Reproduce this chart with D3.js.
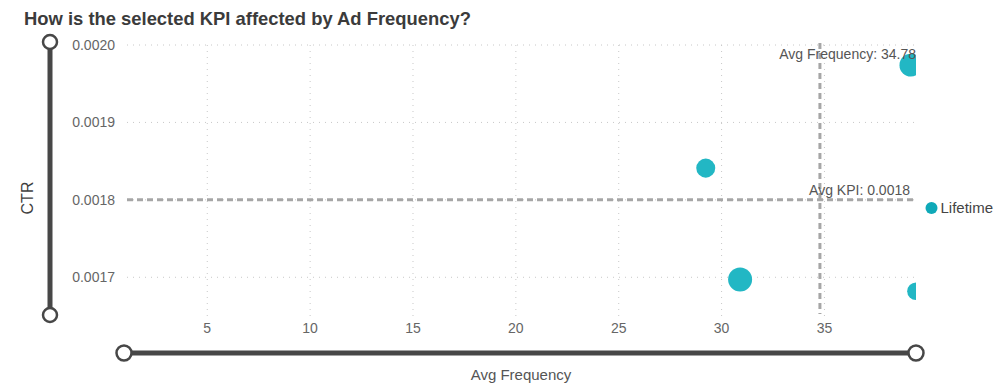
<!DOCTYPE html>
<html>
<head>
<meta charset="utf-8">
<script src="https://cdn.jsdelivr.net/npm/d3@7"></script>
<style>
  html, body { margin: 0; padding: 0; background: #fff; }
  svg { display: block; font-family: "Liberation Sans", Arial, sans-serif; }
</style>
</head>
<body>
<svg id="chart" width="1008" height="390"></svg>
<script>
// ---- data ----
const categories = ["Campaign A", "Campaign B", "Campaign C", "Campaign D"];
const avgFrequency = [39.2, 29.23, 30.9, 39.45];
const ctrValues = [0.001974, 0.001841, 0.001697, 0.001682];
const impressions = [900000, 630000, 1000000, 540000];
const xTickValues = [5, 10, 15, 20, 25, 30, 35];
const yTickValues = [0.0017, 0.0018, 0.0019, 0.0020];
const avgFrequencyRef = 34.78;
const avgKpiRef = 0.0018;
const legendLabels = ["Lifetime"];
const xDomain = [1.05, 39.45];
const yDomain = [0.00165, 0.0020];

(function () {
const svg = d3.select("#chart");
const pL = 126, pR = 916, pT = 45, pB = 316;

const x = d3.scaleLinear().domain(xDomain).range([pL, pR]);
const y = d3.scaleLinear().domain(yDomain).range([pB, pT]);
const r = d3.scaleSqrt().domain([0, d3.max(impressions)]).range([0, 12]);

const teal = "#22b7c4";

// title
svg.append("text").attr("x", 24).attr("y", 25)
  .attr("font-size", 18.4).attr("font-weight", "bold").attr("fill", "#3b3b3b")
  .text("How is the selected KPI affected by Ad Frequency?");

// clip
svg.append("defs").append("clipPath").attr("id", "plotclip")
  .append("rect").attr("x", pL).attr("y", 20).attr("width", pR - pL).attr("height", pB - 20 + 5);

// grid horizontal
svg.append("g").selectAll("line").data(yTickValues).join("line")
  .attr("x1", pL + 1).attr("x2", pR)
  .attr("y1", d => y(d)).attr("y2", d => y(d))
  .attr("stroke", "#c8c8c8").attr("stroke-width", 1).attr("stroke-dasharray", "1,5");
// grid vertical
svg.append("g").selectAll("line").data(xTickValues).join("line")
  .attr("x1", d => x(d)).attr("x2", d => x(d))
  .attr("y1", pT).attr("y2", pB + 2)
  .attr("stroke", "#c8c8c8").attr("stroke-width", 1).attr("stroke-dasharray", "1,5");

// y tick labels
svg.append("g").selectAll("text").data(yTickValues).join("text")
  .attr("x", 115).attr("y", d => y(d)).attr("dy", "0.35em")
  .attr("text-anchor", "end").attr("font-size", 14).attr("fill", "#666")
  .text(d => d3.format(".4f")(d));

// x tick labels
svg.append("g").selectAll("text").data(xTickValues).join("text")
  .attr("x", d => x(d)).attr("y", 328).attr("dy", "0.35em")
  .attr("text-anchor", "middle").attr("font-size", 14).attr("fill", "#666")
  .text(d => d);

// reference lines
svg.append("line").attr("x1", pL + 1).attr("x2", pR)
  .attr("y1", y(avgKpiRef)).attr("y2", y(avgKpiRef))
  .attr("stroke", "#a6a6a6").attr("stroke-width", 3).attr("stroke-dasharray", "6,4");
svg.append("line").attr("x1", x(avgFrequencyRef)).attr("x2", x(avgFrequencyRef))
  .attr("y1", pT - 2).attr("y2", pB - 2)
  .attr("stroke", "#a6a6a6").attr("stroke-width", 3).attr("stroke-dasharray", "6,4");

// points
svg.append("g").attr("clip-path", "url(#plotclip)")
  .selectAll("circle").data(categories).join("circle")
  .attr("cx", (d, i) => x(avgFrequency[i]))
  .attr("cy", (d, i) => y(ctrValues[i]))
  .attr("r", (d, i) => r(impressions[i]))
  .attr("fill", teal);

// reference labels
svg.append("text").attr("x", pR).attr("y", y(0.0020) + 14)
  .attr("text-anchor", "end").attr("font-size", 14).attr("fill", "#555")
  .text("Avg Frequency: " + avgFrequencyRef);
svg.append("text").attr("x", pR - 6).attr("y", y(avgKpiRef) - 5)
  .attr("text-anchor", "end").attr("font-size", 14).attr("fill", "#555")
  .text("Avg KPI: " + d3.format(".4f")(avgKpiRef));

// legend
const lg = svg.append("g").attr("transform", "translate(931.5,208)");
lg.append("circle").attr("r", 6).attr("fill", "#0fa9b8");
lg.append("text").attr("x", 9).attr("dy", "0.35em").attr("font-size", 15).attr("fill", "#444").text(legendLabels[0]);

// y axis title
svg.append("text").attr("transform", "translate(33,198) rotate(-90)")
  .attr("text-anchor", "middle").attr("font-size", 16).attr("fill", "#3f3f3f").text("CTR");

// x axis title
svg.append("text").attr("x", 521).attr("y", 380)
  .attr("text-anchor", "middle").attr("font-size", 15).attr("fill", "#555").text("Avg Frequency");

// y slider
const sliderColor = "#474747";
svg.append("line").attr("x1", 50).attr("x2", 50).attr("y1", 42).attr("y2", 315)
  .attr("stroke", sliderColor).attr("stroke-width", 5);
[42, 315].forEach(cy => svg.append("circle").attr("cx", 50).attr("cy", cy).attr("r", 7)
  .attr("fill", "#fff").attr("stroke", sliderColor).attr("stroke-width", 2.5));

// x slider
svg.append("line").attr("x1", pL).attr("x2", pR).attr("y1", 353).attr("y2", 353)
  .attr("stroke", sliderColor).attr("stroke-width", 5);
[pL - 2, pR].forEach(cx => svg.append("circle").attr("cx", cx).attr("cy", 353).attr("r", 7.5)
  .attr("fill", "#fff").attr("stroke", sliderColor).attr("stroke-width", 2.5));
})();
</script>
</body>
</html>
